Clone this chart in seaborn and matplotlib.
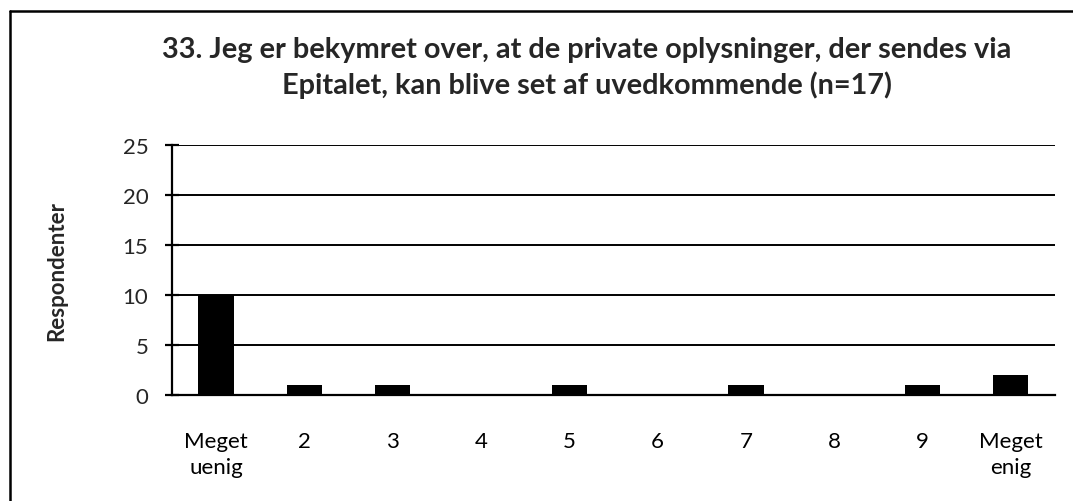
import matplotlib
matplotlib.use("Agg")
import matplotlib.pyplot as plt
from matplotlib.lines import Line2D
from matplotlib.ticker import FixedLocator
import numpy as np
import pandas as pd
import seaborn as sns

# Survey answers on a 1-10 scale
categories = ["Meget\nuenig", "2", "3", "4", "5", "6", "7", "8", "9", "Meget\nenig"]
respondents = [10, 1, 1, 0, 1, 0, 1, 0, 1, 2]
y_ticks = [0, 5, 10, 15, 20, 25]
title = ("33. Jeg er bekymret over, at de private oplysninger, der sendes via\n"
         "Epitalet, kan blive set af uvedkommende (n=17)")
y_label = "Respondenter"

sns.set_theme(style="white")
plt.rcParams["font.family"] = ["Lato", "DejaVu Sans"]

df = pd.DataFrame({"svar": categories, "antal": respondents})

fig = plt.figure(figsize=(10.73, 5.02), dpi=100)
ax = fig.add_axes([0.1603, 0.2112, 0.8229, 0.498])

sns.barplot(data=df, x="svar", y="antal", color="black", width=0.4,
            saturation=1, ax=ax, zorder=3, edgecolor="black", linewidth=0)

ax.set_ylim(0, 25)
ax.set_xlim(-0.5, len(categories) - 0.5)
ax.set_yticks(y_ticks)
ax.yaxis.grid(True, color="black", linewidth=1.4, zorder=0)
ax.set_axisbelow(True)

for side in ["top", "right"]:
    ax.spines[side].set_visible(False)
for side in ["left", "bottom"]:
    ax.spines[side].set_color("black")
    ax.spines[side].set_linewidth(1.6)

# Category labels centred under bars, tick marks between categories
ax.tick_params(axis="x", which="major", length=0, pad=26, labelsize=16, colors="black")
ax.xaxis.set_minor_locator(FixedLocator(np.arange(-0.5, len(categories), 1.0)))
ax.tick_params(axis="x", which="minor", direction="out", length=7, width=1.6, color="black")
ax.tick_params(axis="y", which="major", direction="inout", length=10, width=1.6,
               color="black", labelsize=16, pad=12, left=True)
for lbl in ax.get_xticklabels():
    lbl.set_linespacing(1.4)

ax.set_xlabel("")
ax.set_ylabel(y_label, fontsize=16, fontweight="bold", labelpad=40)

fig.text(0.547, 0.865, title, ha="center", va="center", fontsize=20.8,
         fontweight="bold", linespacing=1.35)

# Frame lines along the top and left edge of the chart area
fig.add_artist(Line2D([10 / 1073, 1.0], [1 - 12 / 502, 1 - 12 / 502],
                      transform=fig.transFigure, color="black", linewidth=1.8))
fig.add_artist(Line2D([10 / 1073, 10 / 1073], [1 - 12 / 502, 0.0],
                      transform=fig.transFigure, color="black", linewidth=1.8))

fig.savefig("out.png", dpi=100, facecolor="white")
